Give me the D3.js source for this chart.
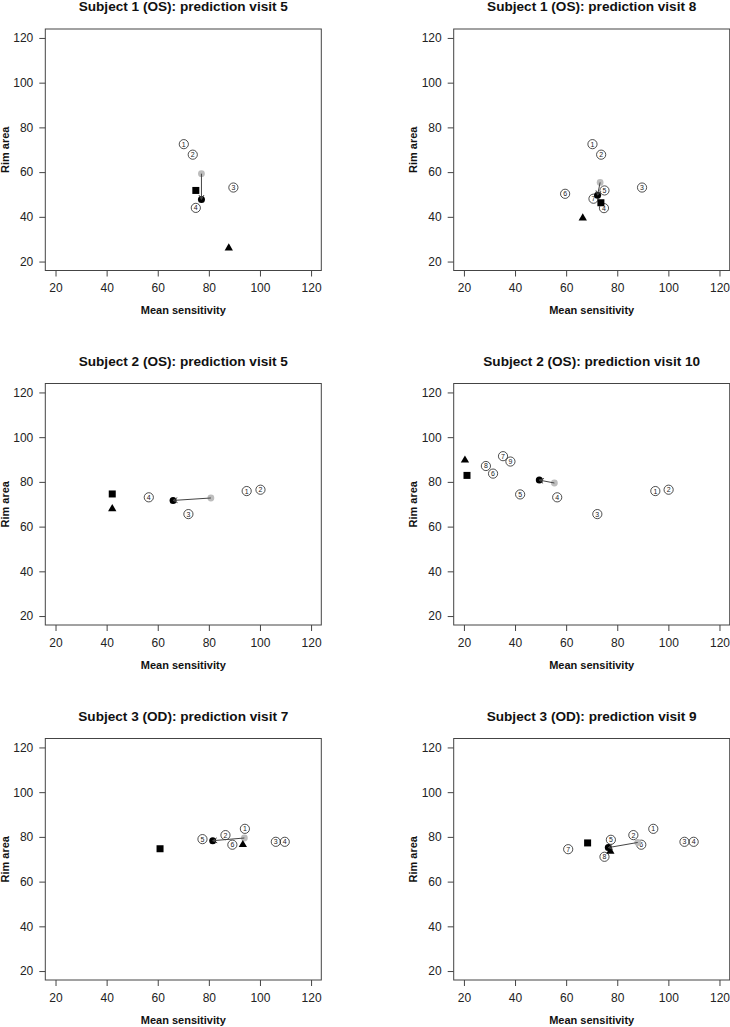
<!DOCTYPE html>
<html><head><meta charset="utf-8">
<script src="https://cdn.jsdelivr.net/npm/d3@7"></script>
<style>body{margin:0;background:#fff}svg{display:block}</style>
</head><body>
<script>
// ---- data ----
const panelTitles = [
  "Subject 1 (OS): prediction visit 5",
  "Subject 1 (OS): prediction visit 8",
  "Subject 2 (OS): prediction visit 5",
  "Subject 2 (OS): prediction visit 10",
  "Subject 3 (OD): prediction visit 7",
  "Subject 3 (OD): prediction visit 9"
];
const xTicks = [20, 40, 60, 80, 100, 120];
const yTicks = [20, 40, 60, 80, 100, 120];
const xLabel = "Mean sensitivity";
const yLabel = "Rim area";

// previous visits (numbered)
const visitNums = [
  [1,2,3,4],
  [1,2,3,4,5,6,7],
  [1,2,3,4],
  [1,2,3,4,5,6,7,8,9],
  [1,2,3,4,5,6],
  [1,2,3,4,5,6,7,8]
];
const visitX = [
  [70.2, 73.7, 89.6, 74.9],
  [70.3, 73.7, 89.7, 74.8, 75.0, 59.6, 70.7],
  [94.8, 100.2, 72.0, 56.5],
  [94.9, 100.1, 72.2, 56.5, 42.0, 31.4, 35.3, 28.6, 38.2],
  [94.1, 86.5, 106.2, 109.7, 77.5, 89.2],
  [94.1, 86.3, 106.3, 109.9, 77.5, 89.4, 60.8, 75.0]
];
const visitY = [
  [72.5, 67.8, 53.1, 44.0],
  [72.5, 67.8, 53.1, 43.9, 51.8, 50.3, 48.1],
  [75.9, 76.5, 65.6, 73.1],
  [75.9, 76.5, 65.6, 73.1, 74.4, 83.7, 91.5, 87.1, 89.1],
  [83.6, 80.8, 77.8, 77.8, 79.0, 76.5],
  [83.6, 80.8, 77.8, 77.8, 78.7, 76.5, 74.5, 71.1]
];
// grey start point of the arrow
const startX = [77.1, 73.3, 80.8, 55.4, 93.9, 88.0];
const startY = [59.3, 55.4, 72.8, 79.5, 79.5, 77.5];
// black prediction point (arrow end)
const predX = [77.1, 72.3, 66.0, 49.5, 81.5, 76.5];
const predY = [47.8, 49.7, 71.7, 80.8, 78.3, 75.2];
// squares
const squareX = [74.9, 73.6, 42.2, 21.2, 60.9, 68.4];
const squareY = [51.8, 46.3, 74.6, 82.9, 74.7, 77.3];
// triangles
const triX = [87.8, 66.5, 42.2, 20.4, 93.3, 77.3];
const triY = [26.0, 39.4, 68.0, 89.7, 76.5, 73.5];

// ---- layout ----
const W = 730, H = 1027;
const colLeft = [45.3, 453.7];
const rowTop = [29, 383.5, 738.5];
const pw = 276, ph = 241.5;
const FONT = "Arial, 'Liberation Sans', Helvetica, sans-serif";

const svg = d3.select("body").append("svg").attr("width", W).attr("height", H)
  .style("font-family", FONT);

panelTitles.forEach((title, i) => {
  const col = i % 2, row = Math.floor(i / 2);
  const g = svg.append("g").attr("transform", `translate(${colLeft[col]},${rowTop[row]})`);
  const x = d3.scaleLinear().domain([16, 124]).range([0, pw]);
  const y = d3.scaleLinear().domain([16, 124]).range([ph, 0]);

  // axes
  const xa = g.append("g").attr("transform", `translate(0,${ph})`)
    .call(d3.axisBottom(x).tickValues(xTicks).tickSize(6).tickPadding(5).tickSizeOuter(0));
  const ya = g.append("g")
    .call(d3.axisLeft(y).tickValues(yTicks).tickSize(6).tickPadding(6).tickSizeOuter(0));
  [xa, ya].forEach(a => {
    a.select(".domain").remove();
    a.selectAll("line").attr("stroke", "#444");
    a.selectAll("text").attr("font-size", 12).attr("fill", "#222").style("font-family", FONT);
  });
  xa.selectAll("text").attr("dy", null).attr("y", 21.5);

  // box
  g.append("rect").attr("x", 0).attr("y", 0).attr("width", pw).attr("height", ph)
    .attr("fill", "none").attr("stroke", "#444").attr("stroke-width", 1);

  // titles
  g.append("text").attr("x", pw / 2).attr("y", -18).attr("text-anchor", "middle")
    .attr("font-size", 13.6).attr("font-weight", "bold").attr("fill", "#111").text(title);
  g.append("text").attr("x", pw / 2).attr("y", ph + 43.5).attr("text-anchor", "middle")
    .attr("font-size", 11).attr("font-weight", "bold").attr("fill", "#111").text(xLabel);
  g.append("text").attr("transform", `translate(-36.5,${ph / 2}) rotate(-90)`)
    .attr("text-anchor", "middle").attr("font-size", 11).attr("font-weight", "bold")
    .attr("fill", "#111").text(yLabel);

  // numbered previous visits
  const vis = visitNums[i].map((n, k) => ({ n, x: visitX[i][k], y: visitY[i][k] }));
  const vg = g.selectAll("g.visit").data(vis).join("g").attr("class", "visit")
    .attr("transform", d => `translate(${x(d.x)},${y(d.y)})`);
  vg.append("circle").attr("r", 4.6).attr("fill", "none").attr("stroke", "#222").attr("stroke-width", 0.8);
  vg.append("text").attr("text-anchor", "middle").attr("dy", "0.35em")
    .attr("font-size", 7).attr("fill", "#222").text(d => d.n);

  // grey start point
  g.append("circle").attr("cx", x(startX[i])).attr("cy", y(startY[i])).attr("r", 3.4).attr("fill", "#bdbdbd");
  // black prediction point
  g.append("circle").attr("cx", x(predX[i])).attr("cy", y(predY[i])).attr("r", 3.5).attr("fill", "#000");
  // square
  const s = 7;
  g.append("rect").attr("x", x(squareX[i]) - s / 2).attr("y", y(squareY[i]) - s / 2)
    .attr("width", s).attr("height", s).attr("fill", "#000");
  // triangle
  g.append("path").attr("d", d3.symbol(d3.symbolTriangle, 30)())
    .attr("transform", `translate(${x(triX[i])},${y(triY[i])})`).attr("fill", "#000");

  // arrow from grey to black
  const x0 = x(startX[i]), y0 = y(startY[i]), x1 = x(predX[i]), y1 = y(predY[i]);
  const ang = Math.atan2(y1 - y0, x1 - x0), L = 5, a = Math.PI / 6;
  const p = d3.path();
  p.moveTo(x0, y0); p.lineTo(x1, y1);
  p.moveTo(x1 - L * Math.cos(ang - a), y1 - L * Math.sin(ang - a)); p.lineTo(x1, y1);
  p.lineTo(x1 - L * Math.cos(ang + a), y1 - L * Math.sin(ang + a));
  g.append("path").attr("d", p.toString()).attr("fill", "none").attr("stroke", "#444").attr("stroke-width", 1);
});
</script>
</body></html>
